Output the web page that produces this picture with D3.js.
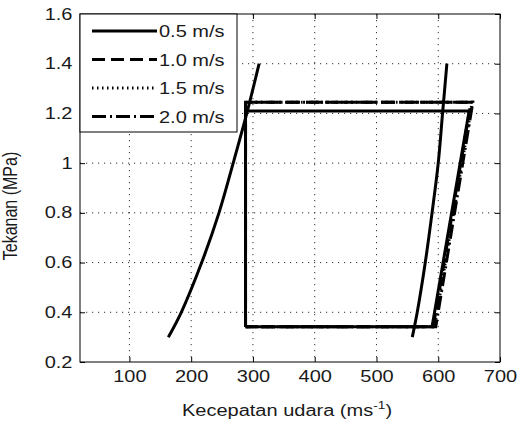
<!DOCTYPE html>
<html>
<head>
<meta charset="utf-8">
<script src="https://cdn.jsdelivr.net/npm/d3@7"></script>
<style>
  body { margin: 0; background: #fff; }
  text { font-family: "Liberation Sans", Arial, sans-serif; fill: #1a1a1a; }
</style>
</head>
<body>
<script>
// legend names
var speeds = ["0.5 m/s", "1.0 m/s", "1.5 m/s", "2.0 m/s"];

// tick values / labels
var xTicks = [100, 200, 300, 400, 500, 600, 700];
var yTicks = [0.2, 0.4, 0.6, 0.8, 1.0, 1.2, 1.4, 1.6];
var yTickLabels = ["0.2", "0.4", "0.6", "0.8", "1", "1.2", "1.4", "1.6"];

// boundary curves (solid)
var batasP = [0.30, 0.40, 0.60, 0.80, 1.00, 1.20, 1.40];
var batasKiriV = [163, 184, 217, 245, 268, 290, 310];
var batasKananV = [558, 566, 579, 590, 600, 607, 614];

// cycle for each speed
var siklus05V = [288, 288, 650, 590, 288];
var siklus05P = [0.342, 1.21, 1.21, 0.342, 0.342];
var siklus10V = [288, 288, 653, 592, 288];
var siklus10P = [0.342, 1.245, 1.245, 0.342, 0.342];
var siklus15V = [288, 288, 655, 594, 288];
var siklus15P = [0.342, 1.245, 1.245, 0.342, 0.342];
var siklus20V = [288, 288, 656, 596, 288];
var siklus20P = [0.342, 1.245, 1.245, 0.342, 0.342];

var svgWidth = 518, svgHeight = 426;
var margin = {top: 14, right: 18, bottom: 64, left: 80};
var width = svgWidth - margin.left - margin.right;
var height = svgHeight - margin.top - margin.bottom;
var sx = 1.25; // text looks stretched sideways in the picture
var lw = 3;

var svg = d3.select("body").append("svg")
  .attr("width", svgWidth)
  .attr("height", svgHeight);

var g = svg.append("g")
  .attr("transform", `translate(${margin.left}, ${margin.top})`);

var x = d3.scaleLinear().domain([20, 700]).range([0, width]);
var y = d3.scaleLinear().domain([0.2, 1.6]).range([height, 0]);

// grid
g.append("g").selectAll("line.gx")
  .data(xTicks.slice(0, -1))
  .enter().append("line")
    .attr("x1", d => x(d)).attr("x2", d => x(d))
    .attr("y1", 0).attr("y2", height)
    .attr("stroke", "#333").attr("stroke-width", 1)
    .attr("stroke-dasharray", "1.2,4.8");
g.append("g").selectAll("line.gy")
  .data(yTicks.slice(1, -1))
  .enter().append("line")
    .attr("x1", 0).attr("x2", width)
    .attr("y1", d => y(d)).attr("y2", d => y(d))
    .attr("stroke", "#333").attr("stroke-width", 1)
    .attr("stroke-dasharray", "1.2,4.8");

// axes (ticks inward)
var xAxis = g.append("g")
  .attr("transform", `translate(0, ${height})`)
  .call(d3.axisBottom(x).tickValues(xTicks).tickSize(-5).tickSizeOuter(0).tickPadding(9));
xAxis.selectAll("text").style("font-size", "16px").attr("transform", `scale(${sx},1)`);

var xTop = g.append("g")
  .call(d3.axisTop(x).tickValues(xTicks).tickSize(-5).tickSizeOuter(0).tickFormat(""));

var yAxis = g.append("g")
  .call(d3.axisLeft(y).tickValues(yTicks).tickSize(-5).tickSizeOuter(0).tickPadding(6)
    .tickFormat((d, i) => yTickLabels[i]));
yAxis.selectAll("text").style("font-size", "16px").attr("transform", `scale(${sx},1)`);

var yRight = g.append("g")
  .attr("transform", `translate(${width}, 0)`)
  .call(d3.axisRight(y).tickValues(yTicks).tickSize(-5).tickSizeOuter(0).tickFormat(""));

[xAxis, xTop, yAxis, yRight].forEach(function (a) {
  a.select(".domain").remove();
  a.selectAll("line").attr("stroke", "#000");
});

// box
g.append("rect")
  .attr("width", width).attr("height", height)
  .attr("fill", "none").attr("stroke", "#000").attr("stroke-width", 1);

var line = d3.line().x(d => x(d[0])).y(d => y(d[1]));
var curve = d3.line().x(d => x(d[0])).y(d => y(d[1])).curve(d3.curveCatmullRom);
var zip = (a, b) => a.map((v, i) => [v, b[i]]);

var dashes = ["none", "13,6", "1.5,3.5", "14,4,2,4"];
var series = [
  zip(siklus05V, siklus05P),
  zip(siklus10V, siklus10P),
  zip(siklus15V, siklus15P),
  zip(siklus20V, siklus20P)
];

g.append("path")
  .datum(zip(batasKiriV, batasP))
  .attr("d", curve).attr("fill", "none")
  .attr("stroke", "#000").attr("stroke-width", lw);
g.append("path")
  .datum(zip(batasKananV, batasP))
  .attr("d", curve).attr("fill", "none")
  .attr("stroke", "#000").attr("stroke-width", lw);

g.selectAll(".siklus")
  .data(series)
  .enter().append("path")
    .attr("class", "siklus")
    .attr("d", line)
    .attr("fill", "none")
    .attr("stroke", "#000")
    .attr("stroke-width", lw)
    .attr("stroke-dasharray", (d, i) => dashes[i]);

// legend
var leg = g.append("g");
leg.append("rect")
  .attr("x", 0).attr("y", 0).attr("width", 157).attr("height", 118)
  .attr("fill", "#fff").attr("stroke", "#000").attr("stroke-width", 1);
var rows = leg.selectAll(".row")
  .data(speeds)
  .enter().append("g")
    .attr("transform", (d, i) => `translate(0, ${17 + i * 28.5})`);
rows.append("line")
  .attr("x1", 12).attr("x2", 77).attr("y1", 0).attr("y2", 0)
  .attr("stroke", "#000").attr("stroke-width", lw)
  .attr("stroke-dasharray", (d, i) => dashes[i]);
rows.append("text")
  .attr("transform", `translate(79, 6) scale(${sx},1)`)
  .style("font-size", "16px")
  .text(d => d);

// axis labels
var xl = svg.append("text")
  .attr("transform", `translate(${margin.left + width / 2 - 3}, 416) scale(${sx},1)`)
  .attr("text-anchor", "middle")
  .style("font-size", "16px");
xl.append("tspan").text("Kecepatan udara (ms");
xl.append("tspan").attr("dy", -7).style("font-size", "11px").text("-1");
xl.append("tspan").attr("dy", 7).text(")");

svg.append("text")
  .attr("transform", `translate(17, 206) rotate(-90) scale(1,${sx})`)
  .attr("text-anchor", "middle")
  .style("font-size", "16px")
  .text("Tekanan (MPa)");
</script>
</body>
</html>
